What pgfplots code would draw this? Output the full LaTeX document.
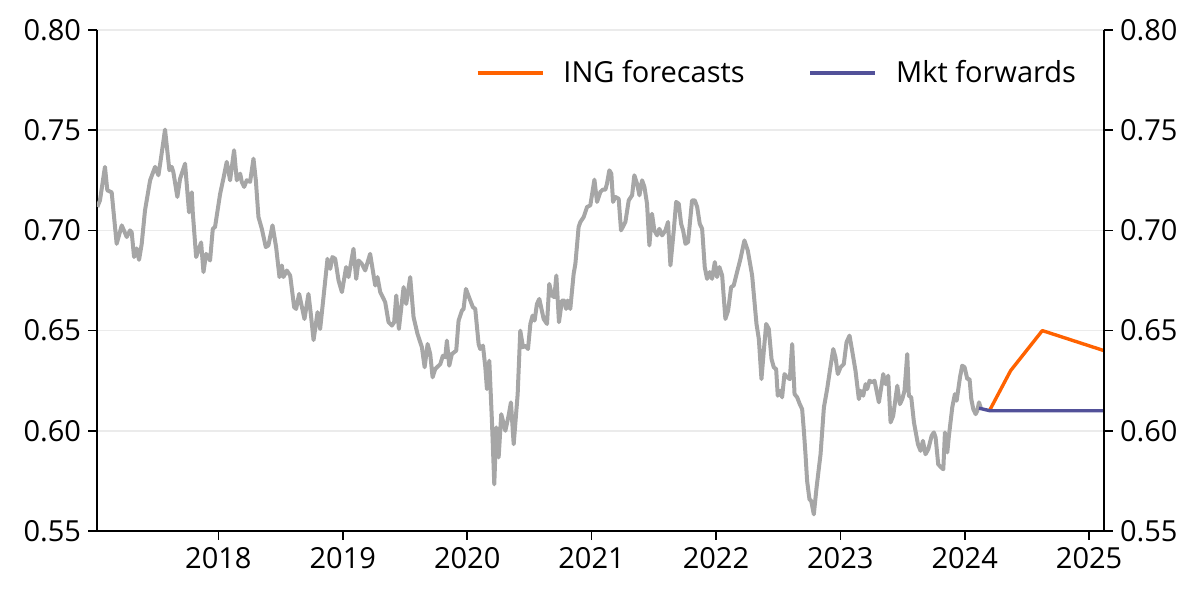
\documentclass[border=0pt]{standalone}
\usepackage{pgfplots}
\pgfplotsset{compat=1.18}
\usepackage{fontspec}
\setmainfont{Open Sans}
\definecolor{histgray}{RGB}{166,166,166}
\definecolor{ingorange}{RGB}{255,98,0}
\definecolor{mktpurple}{RGB}{82,81,153}
\definecolor{gridgray}{RGB}{235,235,235}
\newcommand{\chartfont}{\fontsize{14.5}{17}\selectfont}
\begin{document}
\begin{tikzpicture}
\pgfplotsset{
  common/.style={
    scale only axis, width=503.5pt, height=250.5pt,
    at={(0,0)}, anchor=south west,
    xmin=2017.024, xmax=2025.12, ymin=0.55, ymax=0.80,
    ytick={0.55,0.60,0.65,0.70,0.75,0.80},
    xtick={2018,2019,2020,2021,2022,2023,2024,2025},
    tick align=outside, major tick length=4.5pt,
    axis line style={-, line width=0.8pt, black},
    tick style={line width=0.8pt, black},
    tick label style={font=\chartfont, black},
    /pgf/number format/assume math mode=true,
    yticklabel style={/pgf/number format/.cd, fixed, fixed zerofill, precision=2},
    xticklabel style={/pgf/number format/.cd, 1000 sep={}},
  }
}
\begin{axis}[common,
  axis x line*=bottom, axis y line*=left,
  ymajorgrids, grid style={gridgray, line width=0.8pt},
  legend columns=2,
  legend style={draw=none, fill=none, at={(0.376,0.914)}, anchor=west,
    inner sep=0pt, font=\chartfont,
    /tikz/every odd column/.append style={column sep=7.5pt},
    /tikz/every even column/.append style={column sep=30pt}},
  legend image code/.code={\draw[#1] (0pt,0pt) -- (32.5pt,0pt);},
]
\addplot[histgray, line width=2pt, line join=round, forget plot] coordinates {
(2017.027,0.7117) (2017.048,0.7150) (2017.088,0.7317) (2017.107,0.7200) (2017.142,0.7190)
(2017.182,0.6933) (2017.223,0.7025) (2017.263,0.6967) (2017.290,0.7000) (2017.303,0.6990)
(2017.322,0.6867) (2017.343,0.6910) (2017.362,0.6853) (2017.383,0.6930) (2017.410,0.7100)
(2017.451,0.7250) (2017.491,0.7317) (2017.518,0.7275) (2017.536,0.7350) (2017.571,0.7503)
(2017.606,0.7300) (2017.625,0.7317) (2017.638,0.7290) (2017.670,0.7167) (2017.692,0.7258)
(2017.732,0.7333) (2017.764,0.7090) (2017.786,0.7190) (2017.794,0.7090) (2017.821,0.6867)
(2017.861,0.6940) (2017.880,0.6792) (2017.901,0.6883) (2017.933,0.6850) (2017.955,0.7008)
(2017.973,0.7017) (2018.014,0.7183) (2018.040,0.7258) (2018.067,0.7342) (2018.094,0.7250)
(2018.126,0.7400) (2018.148,0.7250) (2018.175,0.7283) (2018.188,0.7242) (2018.207,0.7217)
(2018.228,0.7250) (2018.255,0.7242) (2018.282,0.7358) (2018.301,0.7250) (2018.322,0.7067)
(2018.349,0.7008) (2018.381,0.6917) (2018.402,0.6925) (2018.435,0.7025) (2018.464,0.6917)
(2018.491,0.6767) (2018.510,0.6825) (2018.523,0.6767) (2018.550,0.6800) (2018.577,0.6775)
(2018.609,0.6617) (2018.625,0.6608) (2018.649,0.6683) (2018.692,0.6558) (2018.724,0.6683)
(2018.743,0.6583) (2018.765,0.6453) (2018.797,0.6592) (2018.818,0.6508) (2018.845,0.6667)
(2018.877,0.6858) (2018.899,0.6808) (2018.917,0.6867) (2018.939,0.6858) (2018.966,0.6750)
(2018.993,0.6692) (2019.027,0.6817) (2019.046,0.6767) (2019.086,0.6908) (2019.108,0.6758)
(2019.127,0.6850) (2019.153,0.6833) (2019.180,0.6800) (2019.220,0.6883) (2019.261,0.6725)
(2019.279,0.6767) (2019.301,0.6692) (2019.341,0.6642) (2019.368,0.6542) (2019.395,0.6525)
(2019.413,0.6542) (2019.430,0.6675) (2019.451,0.6508) (2019.489,0.6717) (2019.510,0.6633)
(2019.542,0.6767) (2019.569,0.6567) (2019.601,0.6483) (2019.636,0.6417) (2019.658,0.6317)
(2019.682,0.6433) (2019.703,0.6383) (2019.722,0.6267) (2019.743,0.6308) (2019.784,0.6333)
(2019.805,0.6375) (2019.824,0.6367) (2019.837,0.6450) (2019.856,0.6325) (2019.877,0.6383)
(2019.912,0.6400) (2019.931,0.6550) (2019.958,0.6600) (2019.971,0.6608) (2019.990,0.6708)
(2020.025,0.6650) (2020.046,0.6617) (2020.065,0.6608) (2020.092,0.6433) (2020.105,0.6408)
(2020.127,0.6425) (2020.146,0.6317) (2020.159,0.6208) (2020.178,0.6350) (2020.199,0.6050)
(2020.218,0.5733) (2020.234,0.6017) (2020.253,0.5867) (2020.274,0.6083) (2020.307,0.6000)
(2020.333,0.6075) (2020.352,0.6142) (2020.374,0.5933) (2020.406,0.6183) (2020.427,0.6500)
(2020.449,0.6417) (2020.467,0.6425) (2020.489,0.6408) (2020.508,0.6533) (2020.526,0.6575)
(2020.542,0.6550) (2020.561,0.6633) (2020.580,0.6658) (2020.615,0.6558) (2020.642,0.6533)
(2020.660,0.6733) (2020.682,0.6675) (2020.701,0.6667) (2020.717,0.6775) (2020.738,0.6542)
(2020.762,0.6650) (2020.781,0.6650) (2020.795,0.6608) (2020.808,0.6650) (2020.829,0.6608)
(2020.856,0.6783) (2020.870,0.6833) (2020.896,0.7017) (2020.910,0.7042) (2020.937,0.7067)
(2020.964,0.7117) (2020.990,0.7125) (2021.023,0.7253) (2021.044,0.7142) (2021.071,0.7192)
(2021.090,0.7203) (2021.111,0.7203) (2021.124,0.7233) (2021.143,0.7300) (2021.159,0.7283)
(2021.173,0.7142) (2021.191,0.7167) (2021.218,0.7158) (2021.237,0.7000) (2021.272,0.7042)
(2021.299,0.7150) (2021.326,0.7175) (2021.344,0.7275) (2021.366,0.7233) (2021.385,0.7175)
(2021.406,0.7250) (2021.425,0.7217) (2021.446,0.7133) (2021.465,0.6925) (2021.486,0.7083)
(2021.505,0.7000) (2021.527,0.6975) (2021.545,0.7008) (2021.567,0.6975) (2021.594,0.7000)
(2021.615,0.7042) (2021.634,0.6825) (2021.661,0.7000) (2021.680,0.7142) (2021.701,0.7133)
(2021.720,0.7033) (2021.736,0.7000) (2021.755,0.6933) (2021.776,0.6942) (2021.808,0.7150)
(2021.830,0.7150) (2021.849,0.7117) (2021.870,0.7033) (2021.889,0.7008) (2021.910,0.6817)
(2021.929,0.6758) (2021.950,0.6792) (2021.969,0.6758) (2021.991,0.6842) (2022.009,0.6767)
(2022.028,0.6817) (2022.050,0.6775) (2022.076,0.6558) (2022.098,0.6600) (2022.122,0.6717)
(2022.143,0.6725) (2022.170,0.6792) (2022.197,0.6858) (2022.229,0.6950) (2022.256,0.6900)
(2022.291,0.6775) (2022.326,0.6533) (2022.345,0.6458) (2022.366,0.6258) (2022.385,0.6400)
(2022.404,0.6533) (2022.425,0.6508) (2022.447,0.6358) (2022.465,0.6317) (2022.484,0.6308)
(2022.497,0.6175) (2022.519,0.6200) (2022.532,0.6167) (2022.551,0.6283) (2022.573,0.6267)
(2022.594,0.6258) (2022.613,0.6433) (2022.632,0.6183) (2022.653,0.6167) (2022.674,0.6133)
(2022.693,0.6108) (2022.707,0.6000) (2022.720,0.5883) (2022.733,0.5750) (2022.752,0.5658)
(2022.766,0.5650) (2022.787,0.5583) (2022.809,0.5717) (2022.841,0.5883) (2022.868,0.6117)
(2022.894,0.6208) (2022.916,0.6300) (2022.943,0.6408) (2022.961,0.6367) (2022.980,0.6283)
(2023.002,0.6317) (2023.028,0.6333) (2023.050,0.6442) (2023.074,0.6475) (2023.095,0.6400)
(2023.122,0.6300) (2023.149,0.6158) (2023.162,0.6200) (2023.184,0.6175) (2023.203,0.6233)
(2023.216,0.6208) (2023.235,0.6250) (2023.256,0.6242) (2023.275,0.6250) (2023.310,0.6142)
(2023.331,0.6225) (2023.345,0.6283) (2023.364,0.6233) (2023.385,0.6275) (2023.404,0.6042)
(2023.425,0.6075) (2023.458,0.6225) (2023.479,0.6133) (2023.498,0.6158) (2023.516,0.6200)
(2023.538,0.6383) (2023.551,0.6175) (2023.570,0.6167) (2023.592,0.6042) (2023.624,0.5933)
(2023.645,0.5900) (2023.664,0.5950) (2023.685,0.5883) (2023.707,0.5908) (2023.734,0.5975)
(2023.752,0.5992) (2023.766,0.5967) (2023.787,0.5833) (2023.811,0.5817) (2023.828,0.5808)
(2023.841,0.5992) (2023.860,0.5892) (2023.873,0.5975) (2023.900,0.6117) (2023.921,0.6183)
(2023.935,0.6150) (2023.962,0.6267) (2023.980,0.6325) (2023.999,0.6317) (2024.021,0.6258)
(2024.039,0.6258) (2024.053,0.6158) (2024.069,0.6108) (2024.088,0.6083) (2024.101,0.6100)
(2024.115,0.6142) (2024.128,0.6117)
};
\addplot[ingorange, line width=1.7pt, line join=round] coordinates {
(2024.203,0.6105) (2024.369,0.6300) (2024.624,0.6500) (2025.12,0.6400)
};
\addlegendentry{ING forecasts}
\addplot[mktpurple, line width=1.7pt, line join=round] coordinates {
(2024.115,0.6113) (2024.203,0.6100) (2025.12,0.6100)
};
\addlegendentry{Mkt forwards}
\end{axis}
\begin{axis}[common,
  axis x line=none, axis y line*=right,
  yticklabel pos=right,
]
\end{axis}
\pgfresetboundingbox
\path[use as bounding box] (-48.5pt,-34pt) rectangle (551.5pt,265.5pt);
\end{tikzpicture}
\end{document}
